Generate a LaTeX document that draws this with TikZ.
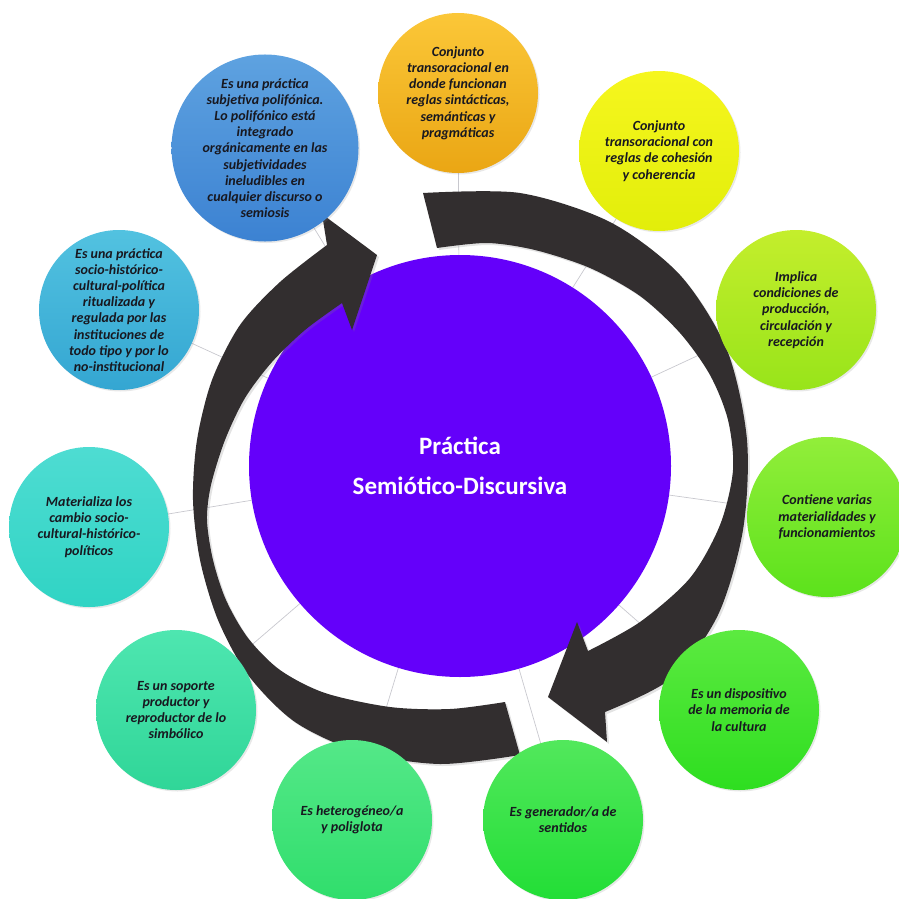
\documentclass[tikz,border=0pt]{standalone}
\usepackage{fontspec}
\setmainfont{Carlito}
\usetikzlibrary{shadows}

\definecolor{morado}{RGB}{100,0,250}
\definecolor{flecha}{RGB}{50,46,47}
\definecolor{grisrayo}{RGB}{200,200,206}
\definecolor{letra}{RGB}{24,24,32}

\pgfdeclarelayer{rayos}
\pgfsetlayers{rayos,main}

\tikzset{
  idea/.style={circle, minimum size=160pt, inner sep=0pt, align=center,
    font=\bfseries\itshape\fontsize{14}{16.2}\selectfont, text=letra,
    drop shadow={opacity=0.18, shadow xshift=1.5pt, shadow yshift=-1.5pt}},
  rayo/.style={draw=grisrayo, line width=0.7pt},
  flechon/.style={fill=flecha,
    drop shadow={opacity=0.22, shadow xshift=2pt, shadow yshift=-2pt}},
}

\begin{document}
\begin{tikzpicture}[x=1pt, y=-1pt]
    \useasboundingbox (0,0) rectangle (898,899);
    \node[circle, fill=morado, minimum size=422pt, inner sep=0pt, text=white, align=center,
          font=\bfseries\fontsize{25}{40}\selectfont] (centro) at (460,466) {Práctica\\Semiótico-Discursiva};
    % flecha derecha
    \fill[flechon] plot[smooth] coordinates {(423,193) (520,193) (610,222) (680,275) (727,350) (747,440)
        (743,530) (718,615) (672,678) (605,712)}
        -- (607,742) -- (548,697) -- (577,622)
        -- plot[smooth] coordinates {(588,651) (640,622) (690,578) (720,525) (733,470) (728,420) (710,375)
        (680,333) (640,296) (590,268) (535,250) (487,243) (437,248)} -- cycle;
    % flecha izquierda
    \fill[flechon] plot[smooth] coordinates {(520,755) (440,764) (360,752) (295,722) (248,675) (218,620)
        (200,560) (193,500) (197,440) (212,380) (240,325) (280,282) (327,245)}
        -- (322,214) -- (377,255) -- (352,330)
        -- plot[smooth] coordinates {(342,303) (305,330) (272,362) (245,398) (225,440) (211,485) (207,520)
        (213,560) (226,600) (248,638) (280,670) (325,693) (390,707) (450,709) (505,702)} -- cycle;
    \node[idea, top color={rgb,255:red,251;green,199;blue,56}, bottom color={rgb,255:red,234;green,166;blue,20}] (c1) at (458,93)
        {Conjunto\\transoracional en\\donde funcionan\\reglas sintácticas,\\semánticas y\\pragmáticas};
    \node[idea, top color={rgb,255:red,246;green,246;blue,30}, bottom color={rgb,255:red,226;green,238;blue,10}] (c2) at (659,151)
        {Conjunto\\transoracional con\\reglas de cohesión\\y coherencia};
    \node[idea, top color={rgb,255:red,196;green,238;blue,44}, bottom color={rgb,255:red,152;green,228;blue,26}] (c3) at (796,310)
        {Implica\\condiciones de\\producción,\\circulación y\\recepción};
    \node[idea, top color={rgb,255:red,146;green,238;blue,58}, bottom color={rgb,255:red,92;green,226;blue,28}] (c4) at (827,517)
        {Contiene varias\\materialidades y\\funcionamientos};
    \node[idea, top color={rgb,255:red,92;green,234;blue,64}, bottom color={rgb,255:red,46;green,222;blue,32}] (c5) at (739,710)
        {Es un dispositivo\\de la memoria de\\la cultura};
    \node[idea, top color={rgb,255:red,82;green,232;blue,92}, bottom color={rgb,255:red,34;green,222;blue,54}] (c6) at (563,820)
        {Es generador/a de\\sentidos};
    \node[idea, top color={rgb,255:red,84;green,232;blue,136}, bottom color={rgb,255:red,48;green,222;blue,108}] (c7) at (352,820)
        {Es heterogéneo/a\\y poliglota};
    \node[idea, top color={rgb,255:red,78;green,230;blue,176}, bottom color={rgb,255:red,48;green,214;blue,152}] (c8) at (176,710)
        {Es un soporte\\productor y\\reproductor de lo\\simbólico};
    \node[idea, top color={rgb,255:red,78;green,220;blue,210}, bottom color={rgb,255:red,48;green,212;blue,196}] (c9) at (89,527)
        {Materializa los\\cambio socio-\\cultural-histórico-\\políticos};
    \node[idea, top color={rgb,255:red,82;green,194;blue,224}, bottom color={rgb,255:red,52;green,166;blue,210}] (c10) at (119,310)
        {Es una práctica\\socio-histórico-\\cultural-política\\ritualizada y\\regulada por las\\instituciones de\\todo tipo y por lo\\no-institucional};
    \node[idea, minimum size=168pt, top color={rgb,255:red,94;green,162;blue,224}, bottom color={rgb,255:red,60;green,130;blue,210}] (c11) at (265,148)
        {Es una práctica\\subjetiva polifónica.\\Lo polifónico está\\integrado\\orgánicamente en las\\subjetividades\\ineludibles en\\cualquier discurso o\\semiosis};
    \begin{pgfonlayer}{rayos}
    \foreach \n in {c1,c2,c3,c4,c5,c6,c7,c8,c9,c10,c11}
        \draw[rayo] (centro) -- (\n);
    \end{pgfonlayer}
\end{tikzpicture}
\end{document}
